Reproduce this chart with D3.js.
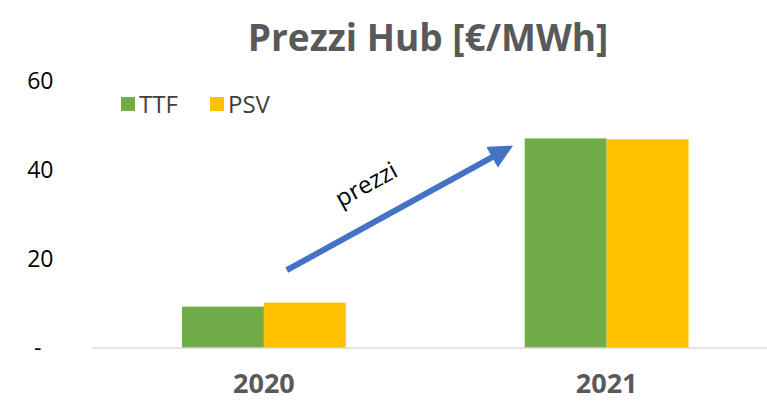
<!DOCTYPE html>
<html>
<head>
<meta charset="utf-8">
<script src="https://cdn.jsdelivr.net/npm/d3@7"></script>
<style>
  body { margin: 0; background: #fff; }
  svg { display: block; font-family: "Open Sans", "Noto Sans", sans-serif; }
  .title { font-weight: bold; fill: #595959; }
  .axis-y, .axis-x { font-family: "Open Sans", "Noto Sans", sans-serif; }
  .axis-y text { fill: #000; font-size: 23px; }
  .axis-x text { fill: #595959; font-size: 27px; font-weight: bold; }
</style>
</head>
<body>
<div id="chart"></div>
<script>
var categories = ['2020', '2021'];
var seriesNames = ['TTF', 'PSV'];
var ttfValues = [9.3, 47.1];
var psvValues = [10.2, 46.9];
var yTicks = [0, 20, 40, 60];

var colors = {TTF: '#70AD47', PSV: '#FFC000'};

var fullWidth = 767, fullHeight = 401;
var margin = {top: 81, right: -11, bottom: 53, left: 92.5};
var width = fullWidth - margin.left - margin.right;
var height = fullHeight - margin.top - margin.bottom;

var svg = d3.select('#chart').append('svg')
    .attr('width', fullWidth)
    .attr('height', fullHeight);

var g = svg.append('g')
    .attr('transform', 'translate(' + margin.left + ',' + margin.top + ')');

var x = d3.scaleBand().domain(categories).range([0, width])
    .paddingInner(0.522).paddingOuter(0.261);
var xSeries = d3.scaleBand().domain(seriesNames).range([0, x.bandwidth()]);
var y = d3.scaleLinear().domain([0, 60]).range([height, 0]);

var rows = categories.map(function(c, i) {
    return {cat: c, values: [{name: 'TTF', v: ttfValues[i]}, {name: 'PSV', v: psvValues[i]}]};
});

// Title.
svg.append('text')
    .attr('class', 'title')
    .attr('x', 428).attr('y', 51)
    .attr('text-anchor', 'middle')
    .style('font-size', '37px')
    .text('Prezzi Hub [€/MWh]');

// Y axis (labels only).
var yAxis = d3.axisLeft(y).tickValues(yTicks).tickSize(0).tickPadding(39)
    .tickFormat(function(d) { return d === 0 ? '-' : d; });
g.append('g').attr('class', 'axis-y').call(yAxis)
    .call(function(s) { s.select('.domain').remove(); })
    .selectAll('.tick text')
    .attr('dx', function(d) { return d === 0 ? -12 : 0; });

// Bars.
g.selectAll('.group').data(rows).enter().append('g')
    .attr('class', 'group')
    .attr('transform', function(d) { return 'translate(' + x(d.cat) + ',0)'; })
  .selectAll('rect').data(function(d) { return d.values; }).enter().append('rect')
    .attr('x', function(d) { return xSeries(d.name); })
    .attr('y', function(d) { return y(d.v); })
    .attr('width', xSeries.bandwidth())
    .attr('height', function(d) { return height - y(d.v); })
    .attr('fill', function(d) { return colors[d.name]; });

// X axis.
var xAxis = d3.axisBottom(x).tickSize(0).tickPadding(26);
var xg = g.append('g').attr('class', 'axis-x')
    .attr('transform', 'translate(0,' + height + ')')
    .call(xAxis);
xg.select('.domain').attr('stroke', '#d9d9d9').attr('stroke-width', 1.5)
    .attr('d', 'M0,0H' + width);
xg.selectAll('.tick text').attr('dy', '0.71em');

// Legend.
var legend = svg.append('g').attr('transform', 'translate(121,95)');
var legendItems = legend.selectAll('.item').data(seriesNames).enter().append('g')
    .attr('transform', function(d, i) { return 'translate(' + (i * 89) + ',0)'; });
legendItems.append('rect')
    .attr('width', 14).attr('height', 14).attr('y', 2)
    .attr('fill', function(d) { return colors[d]; });
legendItems.append('text')
    .attr('x', 18).attr('y', 18)
    .style('font-size', '24px').attr('fill', '#404040')
    .text(function(d) { return d; });

// Arrow annotation, anchored on the data scales.
var arrowFrom = {cat: '2020', offset: 0.64, v: 17.5};
var arrowTo = {cat: '2021', offset: -0.08, v: 45.3};
var ax0 = x(arrowFrom.cat) + x.bandwidth() * arrowFrom.offset, ay0 = y(arrowFrom.v);
var ax1 = x(arrowTo.cat) + x.bandwidth() * arrowTo.offset, ay1 = y(arrowTo.v);

svg.append('defs').append('marker')
    .attr('id', 'arrowhead')
    .attr('viewBox', '0 0 10 10')
    .attr('refX', 6).attr('refY', 5)
    .attr('markerWidth', 4).attr('markerHeight', 4)
    .attr('markerUnits', 'strokeWidth')
    .attr('orient', 'auto')
  .append('path').attr('d', 'M0,0L10,5L0,10z').attr('fill', '#4472C4');

var headLen = 20;
var ang = Math.atan2(ay1 - ay0, ax1 - ax0);
g.append('line')
    .attr('x1', ax0).attr('y1', ay0)
    .attr('x2', ax1 - Math.cos(ang) * headLen * 0.4).attr('y2', ay1 - Math.sin(ang) * headLen * 0.4)
    .attr('stroke', '#4472C4').attr('stroke-width', 6)
    .attr('marker-end', 'url(#arrowhead)');

var deg = ang * 180 / Math.PI;
var mx = (ax0 + ax1) / 2 - 33, my = (ay0 + ay1) / 2 - 24;
g.append('text')
    .attr('transform', 'translate(' + mx + ',' + my + ') rotate(' + deg + ')')
    .attr('text-anchor', 'middle')
    .attr('dy', '0.35em')
    .style('font-size', '24px').attr('fill', '#000')
    .text('prezzi');
</script>
</body>
</html>
